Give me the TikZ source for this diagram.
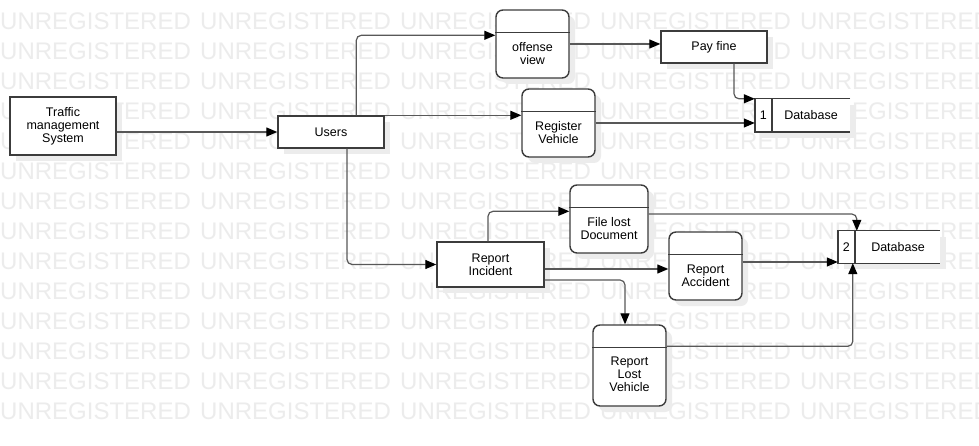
\documentclass[tikz,border=0pt]{standalone}
\usepackage{fontspec}
\setmainfont{Liberation Sans}
\usetikzlibrary{arrows.meta,calc,shadows}

\definecolor{wm}{RGB}{236,236,236}
\definecolor{edge}{RGB}{60,60,60}
\definecolor{flowc}{RGB}{88,88,88}
\definecolor{shade}{RGB}{236,236,236}
\newcommand\lblfont{\fontsize{12.5}{13}\selectfont}
\newcommand\wmfont{\fontsize{24}{24}\selectfont}

\begin{document}
\begin{tikzpicture}[x=1pt,y=-1pt,
  entity/.style={draw=edge, line width=1.4pt, fill=white, inner sep=0pt,
    align=center, font=\lblfont,
    drop shadow={shadow xshift=6pt,shadow yshift=-6pt,fill=shade,opacity=1}},
  proc/.style={entity, rounded corners=7pt},
  store/.style={fill=white, draw=none, inner sep=0pt,
    drop shadow={shadow xshift=6pt,shadow yshift=-6pt,fill=shade,opacity=1}},
  storeline/.style={draw=edge, line width=1.4pt},
  lbl/.style={inner sep=0pt, align=center, font=\lblfont},
  flow/.style={draw=flowc, line width=1.2pt, rounded corners=5pt,
    -{Triangle[length=11pt,width=9pt,color=black]}},
  wmtext/.style={text=wm, font=\wmfont, anchor=base west, inner sep=0pt}]

\useasboundingbox (0,0) rectangle (979,446);
\fill[white] (0,0) rectangle (979,446);

% background watermark rows
\foreach \r in {0,...,13}
  \foreach \c in {0,...,4}
    \node[wmtext] (wm-\r-\c) at (200*\c, 29.5+30*\r) {UNREGISTERED};

% external entity and plain processes
\node[entity, minimum width=106pt, minimum height=58pt] (tms) at (63,126) {Traffic\\management\\System};
\node[entity, minimum width=106pt, minimum height=32pt] (users) at (331,132) {Users};
\node[entity, minimum width=106pt, minimum height=32pt] (payfine) at (714,47) {Pay fine};
\node[entity, minimum width=107pt, minimum height=45pt] (incident) at (490.5,264.5) {Report\\Incident};

% rounded processes with a header band
\node[proc, minimum width=73pt, minimum height=68pt] (offense) at (532.5,44) {};
\node[proc, minimum width=73pt, minimum height=68pt] (register) at (558.5,123) {};
\node[proc, minimum width=78pt, minimum height=68pt] (filelost) at (609,219) {};
\node[proc, minimum width=73pt, minimum height=68pt] (accident) at (705.5,266) {};
\node[proc, minimum width=73pt, minimum height=81pt] (lostveh) at (629.5,365.5) {};

\foreach \n in {offense,register,filelost,accident,lostveh}
  \draw[storeline] ($(\n.north west)+(0,23)$) -- ($(\n.north east)+(0,23)$);

\node[lbl] (offense-t) at ($(offense.north)+(0,44.5)$) {offense\\view};
\node[lbl] (register-t) at ($(register.north)+(0,44)$) {Register\\Vehicle};
\node[lbl] (filelost-t) at ($(filelost.north)+(0,44)$) {File lost\\Document};
\node[lbl] (accident-t) at ($(accident.north)+(0,44)$) {Report\\Accident};
\node[lbl] (lostveh-t) at ($(lostveh.north)+(0,50)$) {Report\\Lost\\Vehicle};

% data stores
\node[store, minimum width=95pt, minimum height=33pt] (db1) at (802.5,115.5) {};
\draw[storeline] (db1.north east) -- (db1.north west) -- (db1.south west) -- (db1.south east);
\draw[storeline] ($(db1.north west)+(17,0)$) -- ($(db1.south west)+(17,0)$);
\node[lbl] (db1-n) at ($(db1.west)+(8.5,0)$) {1};
\node[lbl] (db1-t) at ($(db1.center)+(8.5,0)$) {Database};

\node[store, minimum width=102pt, minimum height=32pt] (db2) at (889,247) {};
\draw[storeline] (db2.north east) -- (db2.north west) -- (db2.south west) -- (db2.south east);
\draw[storeline] ($(db2.north west)+(17,0)$) -- ($(db2.south west)+(17,0)$);
\node[lbl] (db2-n) at ($(db2.west)+(8.5,0)$) {2};
\node[lbl] (db2-t) at ($(db2.center)+(9,0)$) {Database};

% flows
\draw[flow] (tms.east |- users.west) -- (users.west);
\draw[flow] ($(users.north west)+(79,0)$) |- ($(offense.north west)+(0,26)$);
\draw[flow] (users.north east) -- (register.west |- users.north east);
\draw[flow] (offense.east) -- (offense.east -| payfine.west);
\draw[flow] ($(payfine.south)+(20,0)$) |- (db1.north west);
\draw[flow] (register.east) -- (register.east -| db1.west);

\draw[flow] ($(users.south)+(16,0)$) |- (incident.west);
\draw[flow] ($(incident.north)+(-2.5,0)$) |- ($(filelost.north west)+(0,27)$);
\path (filelost.east) ++(0,-5) coordinate (fd);
\draw[flow] (fd) -| ($(db2.north west)+(19,0)$);
\path (incident.east) ++(0,4.5) coordinate (ia);
\draw[flow] (ia) -- (ia -| accident.west);
\path (accident.east) ++(0,-4) coordinate (ad);
\draw[flow] (ad) -- (ad -| db2.west);
\path (incident.east) ++(0,15.5) coordinate (il);
\draw[flow] (il) -| ($(lostveh.north)+(-4.5,0)$);
\path (lostveh.north east) ++(0,22) coordinate (lv);
\draw[flow] (lv) -| ($(db2.south west)+(15,0)$);

\end{tikzpicture}
\end{document}
